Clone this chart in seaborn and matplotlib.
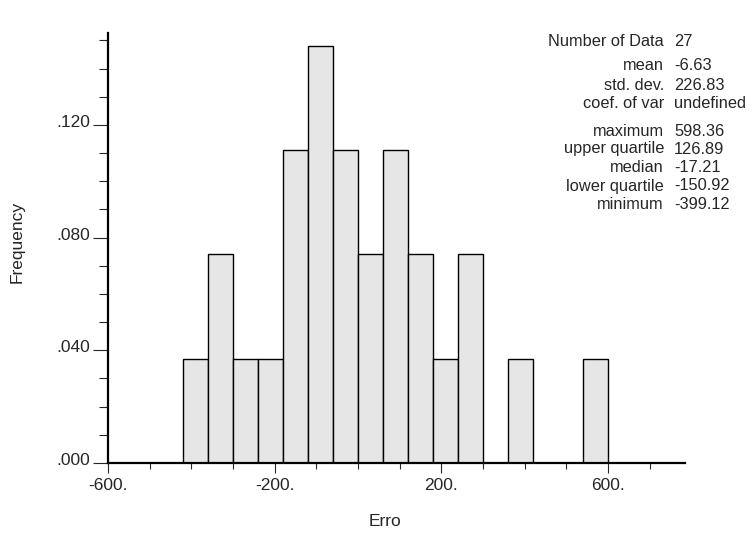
import numpy as np
import pandas as pd
import matplotlib
matplotlib.use("Agg")
import matplotlib.pyplot as plt
import matplotlib.transforms as mtransforms
import seaborn as sns
from matplotlib.ticker import FixedLocator, MultipleLocator

# Data
bin_edges = [-420, -360, -300, -240, -180, -120, -60, 0, 60, 120, 180, 240,
             300, 360, 420, 480, 540, 600]
counts = [1, 2, 1, 1, 3, 4, 3, 2, 3, 2, 1, 2, 0, 1, 0, 0, 1]
n_data = 27

stat_labels = ["Number of Data", "mean", "std. dev.", "coef. of var",
               "maximum", "upper quartile", "median", "lower quartile", "minimum"]
stat_values = ["27", "-6.63", "226.83", "undefined",
               "598.36", "126.89", "-17.21", "-150.92", "-399.12"]

x_major = [-600, -200, 200, 600]
x_major_labels = ["-600.", "-200.", "200.", "600."]
y_major = [0.0, 0.04, 0.08, 0.12]
y_major_labels = [".000", ".040", ".080", ".120"]

sns.set_style("white")
plt.rcParams['font.family'] = ['Liberation Sans', 'DejaVu Sans']

centers = [(a + b) / 2 for a, b in zip(bin_edges[:-1], bin_edges[1:])]
df = pd.DataFrame({"Erro": centers, "w": [c / n_data for c in counts]})

fig = plt.figure(figsize=(7.52, 5.34), dpi=100)
ax = fig.add_axes([108 / 752, 1 - 463 / 534, (685 - 108) / 752, (463 - 33) / 534])

sns.histplot(data=df, x="Erro", weights="w", bins=bin_edges, ax=ax,
             color="#e6e6e6", edgecolor="black", linewidth=1.0, alpha=1.0)

ax.set_xlim(-600, 785)
ax.set_ylim(0, 0.1526)

for s in ["top", "right"]:
    ax.spines[s].set_visible(False)
for s in ["left", "bottom"]:
    ax.spines[s].set_linewidth(1.6)
    ax.spines[s].set_color("black")

ax.xaxis.set_major_locator(FixedLocator(x_major))
ax.set_xticklabels(x_major_labels)
ax.xaxis.set_minor_locator(FixedLocator([-500, -400, -300, -100, 0, 100, 300, 400, 500, 700]))
ax.yaxis.set_major_locator(FixedLocator(y_major))
ax.set_yticklabels(y_major_labels)
ax.yaxis.set_minor_locator(MultipleLocator(0.01))

ax.tick_params(axis="x", which="major", direction="out", length=7, width=0.8,
               labelsize=12.5, pad=4, bottom=True)
ax.tick_params(axis="x", which="minor", direction="out", length=4.5, width=0.8, bottom=True)
ax.tick_params(axis="y", which="major", direction="out", length=11, width=0.8,
               labelsize=12.5, pad=2, left=True)
ax.tick_params(axis="y", which="minor", direction="out", length=6.5, width=0.8, left=True)

# raise y tick labels slightly, as in the reference
offset = mtransforms.ScaledTranslation(0, 4 / 100, fig.dpi_scale_trans)
for lbl in ax.get_yticklabels():
    lbl.set_transform(lbl.get_transform() + offset)

ax.set_xlabel("Erro", fontsize=12.5)
ax.set_ylabel("Frequency", fontsize=12.5)
ax.xaxis.set_label_coords((385 - 108) / 577, (463 - 521) / 430)
ax.yaxis.set_label_coords((17 - 108) / 577, (463 - 242) / 430)
ax.xaxis.label.set_va("center")
ax.yaxis.label.set_va("center")

# stats block in pixel coords
ys = [42, 66, 85, 104, 131, 149, 167, 186, 205]
for lab, val, y in zip(stat_labels, stat_values, ys):
    fig.text(664 / 752, 1 - y / 534, lab, ha="right", va="center", fontsize=11.8)
    fig.text(674 / 752, 1 - y / 534, val, ha="left", va="center", fontsize=11.8)

fig.savefig("out.png", dpi=100)
